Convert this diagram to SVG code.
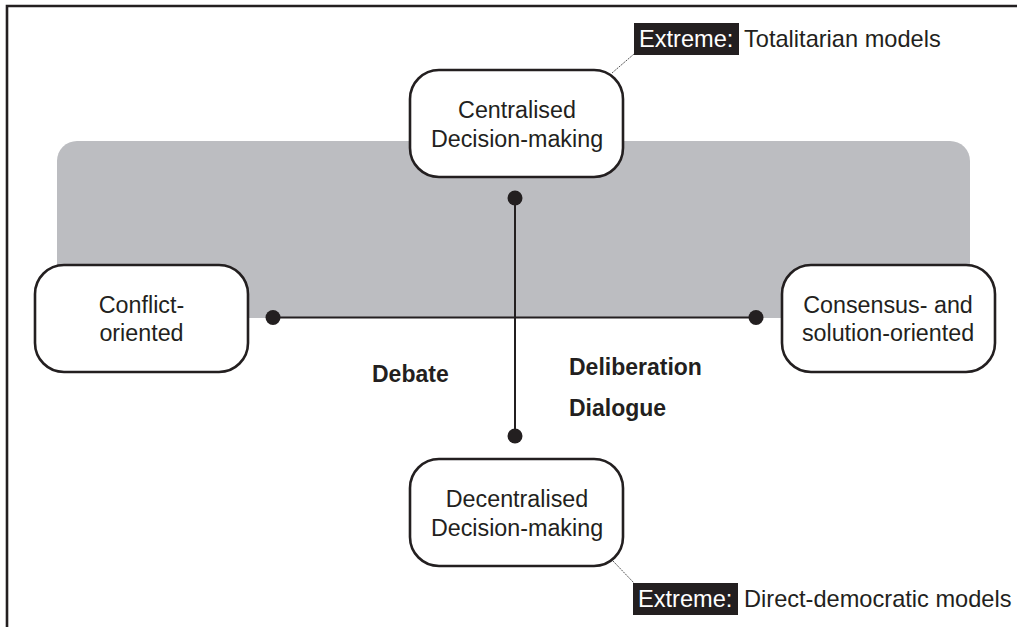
<svg xmlns="http://www.w3.org/2000/svg" width="1017" height="627" viewBox="0 0 1017 627">
<style>
.box{fill:#fff;stroke:#231f20;stroke-width:2.6}
.t{font-family:"Liberation Sans",Arial,sans-serif;font-size:23.3px;fill:#231f20;text-anchor:middle}
.b{font-family:"Liberation Sans",Arial,sans-serif;font-size:23px;font-weight:bold;fill:#231f20}
.c{font-family:"Liberation Sans",Arial,sans-serif;font-size:23.6px;fill:#231f20}
.w{fill:#fff}
.ln{stroke:#231f20;stroke-width:2;fill:none}
.dot{fill:#231f20}
.lead{stroke:#555;stroke-width:1;fill:none;stroke-dasharray:2 1}
</style>
<path d="M7,627 V6 H1017" fill="none" stroke="#231f20" stroke-width="2.6"/>
<rect id="band" x="57" y="141" width="913" height="177" rx="20" fill="#bcbdc1"/>
<g id="connectors">
<line class="ln" x1="273" y1="317.5" x2="756" y2="317.5"/>
<line class="ln" x1="515" y1="198" x2="515" y2="436"/>
<circle class="dot" cx="273" cy="317.5" r="7.5"/>
<circle class="dot" cx="756" cy="317.5" r="7.5"/>
<circle class="dot" cx="515" cy="198" r="7.5"/>
<circle class="dot" cx="515" cy="436" r="7.5"/>
<line class="lead" x1="612" y1="73" x2="634" y2="54"/>
<line class="lead" x1="613" y1="561" x2="634" y2="583"/>
</g>
<g id="centralised">
<rect class="box" x="410" y="70" width="213" height="107" rx="29"/>
<text class="t" x="517" y="118">Centralised</text>
<text class="t" x="517" y="146.5">Decision-making</text>
</g>
<g id="decentralised">
<rect class="box" x="410" y="459" width="213" height="107" rx="29"/>
<text class="t" x="517" y="507">Decentralised</text>
<text class="t" x="517" y="535.5">Decision-making</text>
</g>
<g id="conflict">
<rect class="box" x="35" y="265" width="213" height="107" rx="29"/>
<text class="t" x="141.5" y="313">Conflict-</text>
<text class="t" x="141.5" y="341">oriented</text>
</g>
<g id="consensus">
<rect class="box" x="782" y="265" width="213" height="107" rx="29"/>
<text class="t" x="888" y="313">Consensus- and</text>
<text class="t" x="888" y="341">solution-oriented</text>
</g>
<g id="labels">
<text class="b" x="372" y="382">Debate</text>
<text class="b" x="569" y="375">Deliberation</text>
<text class="b" x="569" y="416">Dialogue</text>
</g>
<g id="extreme-top">
<rect x="634" y="23" width="105" height="32" fill="#231f20"/>
<text class="c w" x="639" y="47">Extreme:</text>
<text class="c" x="744" y="47">Totalitarian models</text>
</g>
<g id="extreme-bottom">
<rect x="633" y="583" width="105" height="32" fill="#231f20"/>
<text class="c w" x="638" y="607">Extreme:</text>
<text class="c" x="744" y="607">Direct-democratic models</text>
</g>
</svg>
